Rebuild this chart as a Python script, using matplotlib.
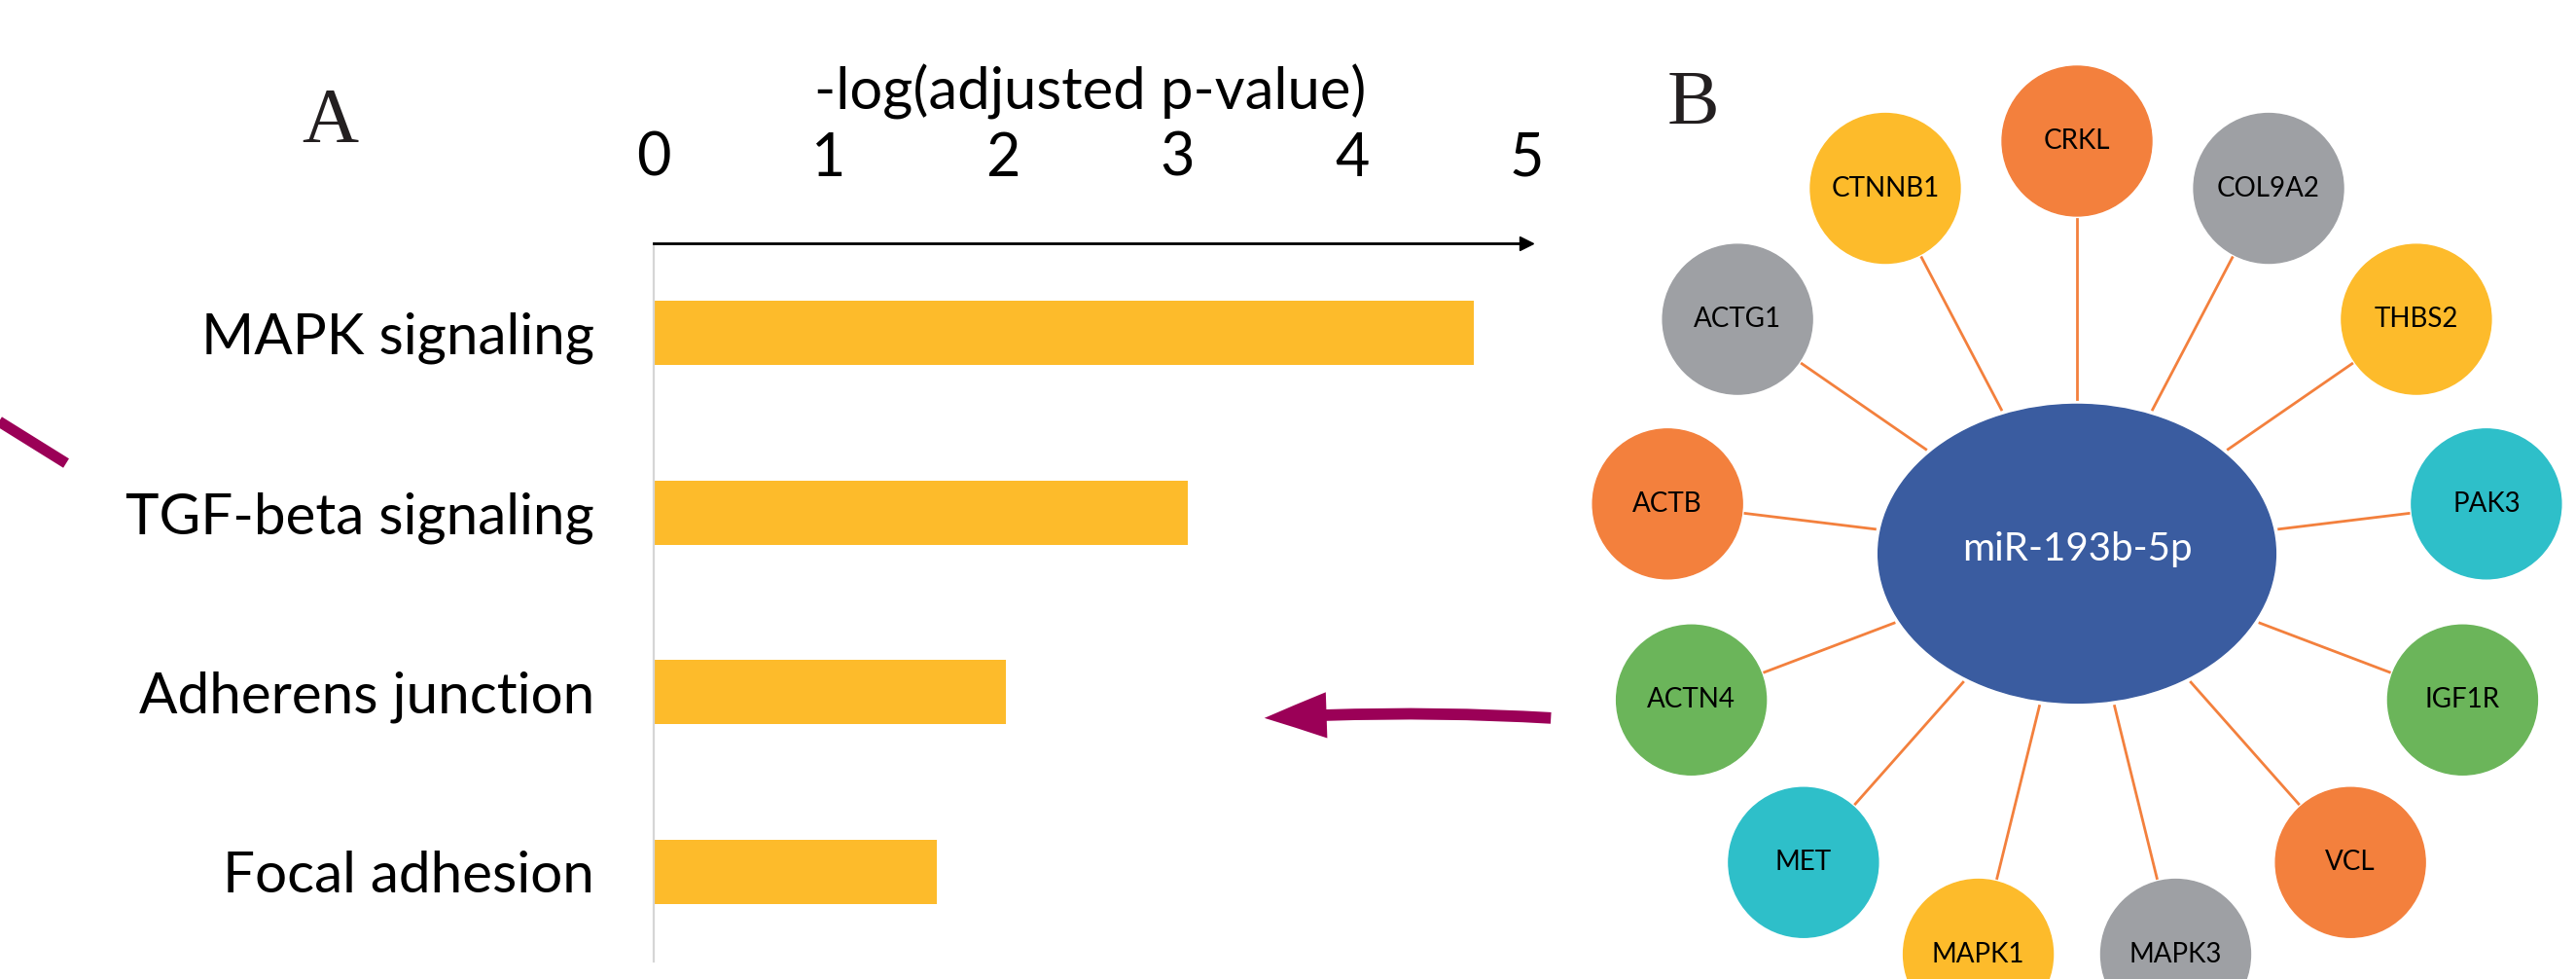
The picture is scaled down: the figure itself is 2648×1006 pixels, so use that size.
import numpy as np
import matplotlib.pyplot as plt
from matplotlib.patches import Circle, Ellipse, FancyArrowPatch

# panel A data
pathways = ["MAPK signaling", "TGF-beta signaling", "Adherens junction", "Focal adhesion"]
neg_log_p = [4.70, 3.06, 2.02, 1.62]
x_ticks = [0, 1, 2, 3, 4, 5]

# panel B data (clockwise from the top)
mirna = "miR-193b-5p"
targets = ["CRKL", "COL9A2", "THBS2", "PAK3", "IGF1R", "VCL", "MAPK3",
           "MAPK1", "MET", "ACTN4", "ACTB", "ACTG1", "CTNNB1"]

ORANGE = "#F3803D"
GRAY = "#9EA0A4"
YELLOW = "#FDBB2B"
TEAL = "#2EBFC9"
GREEN = "#6BB55A"
BLUE = "#3A5CA0"
PURPLE = "#9B0057"
palette = [ORANGE, GRAY, YELLOW, TEAL, GREEN]

W, H = 2648, 1006
fig = plt.figure(figsize=(W / 100, H / 100), dpi=100)
plt.rcParams['font.family'] = ['Lato', 'DejaVu Sans']

# overlay in pixel coordinates for letters and arrows
ov = fig.add_axes([0, 0, 1, 1])
ov.set_xlim(0, W)
ov.set_ylim(H, 0)
ov.axis("off")
ov.text(339, 126, "A", fontsize=58, family="Liberation Serif", ha="center", va="center", color="#231F20")
ov.text(1740, 108, "B", fontsize=58, family="Liberation Serif", ha="center", va="center", color="#231F20")
arr = FancyArrowPatch((1597, 738), (1297, 738), connectionstyle="arc3,rad=0.03",
                      arrowstyle="simple,tail_width=8.5,head_width=34,head_length=46",
                      mutation_scale=1, color=PURPLE, lw=0)
ov.add_patch(arr)
ov.plot([-30, 68], [415, 476], color=PURPLE, lw=8, solid_capstyle="butt")

# panel A: bar chart
ax = fig.add_axes([672 / W, 18 / H, 897 / W, 738 / H])
y = np.arange(len(pathways))
ax.barh(y, neg_log_p, height=0.356, color=YELLOW, zorder=2)
ax.set_xlim(0, 5)
ax.set_ylim(len(pathways) - 0.5, -0.5)
ax.set_yticks(y)
ax.set_yticklabels(pathways, fontsize=42)
ax.set_xticks(x_ticks)
ax.set_xticklabels([str(t) for t in x_ticks], fontsize=44)
ax.xaxis.tick_top()
ax.xaxis.set_label_position("top")
ax.set_xlabel("-log(adjusted p-value)", fontsize=43, labelpad=16)
ax.tick_params(axis="x", length=0, pad=42)
ax.tick_params(axis="y", length=0, pad=44)
for s in ["right", "bottom"]:
    ax.spines[s].set_visible(False)
ax.spines["left"].set_color("#D6D6D6")
ax.spines["left"].set_linewidth(1.6)
ax.spines["top"].set_linewidth(2)
ax.plot(1, 1, ">", color="black", markersize=10, transform=ax.transAxes, clip_on=False)
ax.patch.set_alpha(0)

# panel B: network
nx = fig.add_axes([1600 / W, 0, 1048 / W, 1])
nx.set_xlim(-1.262, 1.210)
nx.set_ylim(-1.031, 1.342)
nx.axis("off")
a, b = 0.482, 0.362
r_node = 0.1816
nx.add_patch(Ellipse((0, 0), 2 * a, 2 * b, color=BLUE, zorder=3))
nx.text(0, 0.01, mirna, color="white", fontsize=29, ha="center", va="center", zorder=4)
n = len(targets)
for i, name in enumerate(targets):
    ang = np.deg2rad(90 - i * 360 / n)
    ux, uy = np.cos(ang), np.sin(ang)
    r_e = 1 / np.sqrt((ux / a) ** 2 + (uy / b) ** 2)
    r0, r1 = r_e + 0.014, 1 - r_node - 0.008
    nx.plot([r0 * ux, r1 * ux], [r0 * uy, r1 * uy], color=ORANGE, lw=2, zorder=2)
    nx.add_patch(Circle((ux, uy), r_node, color=palette[i % len(palette)], zorder=3))
    nx.text(ux, uy, name, fontsize=20, ha="center", va="center", color="black", zorder=4)

fig.savefig("out.png", dpi=100)
